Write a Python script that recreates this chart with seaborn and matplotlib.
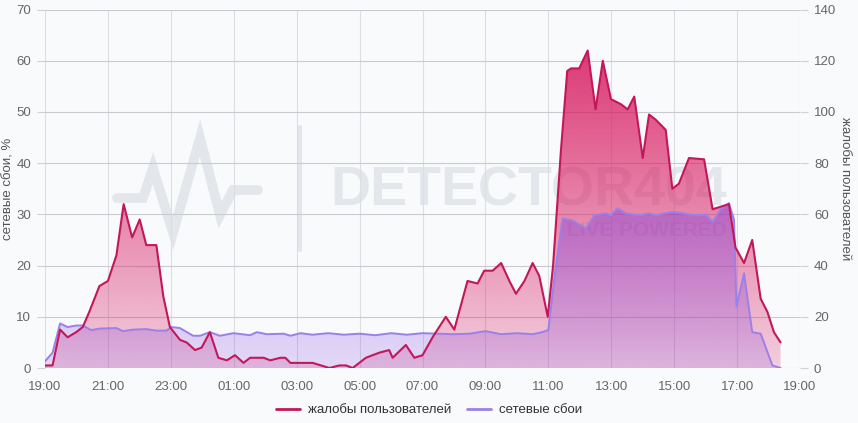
import numpy as np
import pandas as pd
import matplotlib
matplotlib.use("Agg")
import matplotlib.pyplot as plt
import seaborn as sns
from matplotlib.colors import to_rgb
from matplotlib.lines import Line2D

# ---------------- data ----------------
tick_hours = [0, 2, 4, 6, 8, 10, 12, 14, 16, 18, 20, 22, 24]
tick_labels = ["19:00", "21:00", "23:00", "01:00", "03:00", "05:00", "07:00",
               "09:00", "11:00", "13:00", "15:00", "17:00", "19:00"]

# network failures, % (left axis); hours since 19:00
net_hours = [0, 0.24, 0.48, 0.72, 0.99, 1.2, 1.47, 1.73, 2.27, 2.48, 2.8, 3.22, 3.54,
             3.86, 4.02, 4.29, 4.71, 4.93, 5.24, 5.56, 5.99, 6.52, 6.73, 7.05, 7.59,
             7.8, 8.12, 8.5, 9.0, 9.5, 10.0, 10.5, 11.0, 11.5, 12.0, 12.5, 13.0, 13.5,
             14.0, 14.5, 15.0, 15.5, 15.8, 16.0, 16.2, 16.45, 16.77, 17.19, 17.46,
             17.83, 17.99, 18.2, 18.46, 18.89, 19.2, 19.41, 19.94, 20.47, 20.79, 21.0,
             21.22, 21.48, 21.74, 21.9, 21.98, 22.22, 22.48, 22.75, 23.12, 23.38]
net_values = [1.3, 3.0, 8.7, 8.0, 8.3, 8.3, 7.4, 7.7, 7.8, 7.2, 7.5, 7.6, 7.3,
              7.3, 8.0, 7.8, 6.3, 6.3, 7.0, 6.3, 6.8, 6.4, 7.0, 6.6, 6.7,
              6.3, 6.8, 6.5, 6.8, 6.5, 6.7, 6.4, 6.8, 6.5, 6.8, 6.7, 6.6, 6.7,
              7.2, 6.6, 6.8, 6.6, 7.0, 7.4, 18.0, 29.2, 28.8, 27.2, 29.8,
              30.2, 29.8, 31.2, 30.2, 29.8, 30.2, 29.8, 30.5, 30.0, 29.8, 30.0,
              28.5, 31.0, 32.2, 29.0, 12.0, 18.5, 7.0, 6.7, 0.5, 0.0]

# user complaints (right axis); hours since 19:00
comp_hours = [0, 0.24, 0.48, 0.72, 0.99, 1.2, 1.41, 1.73, 2.0, 2.27, 2.5, 2.77, 3.01,
              3.22, 3.54, 3.76, 3.97, 4.29, 4.5, 4.77, 4.98, 5.24, 5.51, 5.78, 6.04,
              6.31, 6.52, 6.95, 7.16, 7.48, 7.64, 7.8, 8.12, 8.51, 9.04, 9.35, 9.57,
              9.78, 10.2, 10.63, 10.94, 11.05, 11.47, 11.74, 12.0, 12.32, 12.74, 13.01,
              13.43, 13.75, 13.96, 14.23, 14.5, 14.76, 14.97, 15.24, 15.5, 15.71, 15.98,
              16.15, 16.4, 16.6, 16.72, 16.98, 17.25, 17.5, 17.73, 17.99, 18.31, 18.52,
              18.73, 19.0, 19.2, 19.41, 19.73, 19.94, 20.15, 20.47, 20.95, 21.22, 21.48,
              21.74, 21.95, 22.22, 22.48, 22.75, 22.96, 23.17, 23.38]
comp_values = [1, 1, 15, 12, 14, 16, 22, 32, 34, 44, 64, 51, 58,
               48, 48, 28, 16, 11, 10, 7, 8, 14, 4, 3, 5,
               2, 4, 4, 3, 4, 4, 2, 2, 2, 0, 1, 1,
               0, 4, 6, 7, 4, 9, 4, 5, 12, 20, 15,
               34, 33, 38, 38, 41, 34, 29, 34, 41, 36, 20,
               40, 85, 116, 117, 117, 124, 101, 120, 105, 103, 101,
               106, 82, 99, 97, 93, 70, 72, 82, 81.5, 62, 63,
               64, 47, 41, 50, 27, 22, 14, 10]

net_df = pd.DataFrame({"hour": net_hours, "value": net_values})
comp_df = pd.DataFrame({"hour": comp_hours, "value": comp_values})

# ---------------- style ----------------
sns.set_theme(style="white")
plt.rcParams["font.family"] = ["Liberation Sans", "DejaVu Sans"]

BG = "#f9fafc"
C_COMP = "#c2185b"
C_COMP_FILL = "#d81b60"
C_NET = "#9b80e8"
C_NET_FILL = "#7e40e0"
TICK_C = "#666666"

fig = plt.figure(figsize=(8.58, 4.23), dpi=100, facecolor=BG)
ax_c = fig.add_axes([0.05245, 0.13, 0.88, 0.8475])   # complaints (right axis), bottom layer
ax_n = ax_c.twinx()                                   # network (left axis)
ax_top = ax_c.twinx()                                 # complaints line layer
ax_c.yaxis.tick_right()
ax_c.yaxis.set_label_position("right")
ax_n.yaxis.tick_left()
ax_n.yaxis.set_label_position("left")
ax_c.set_zorder(1)
ax_n.set_zorder(2)
ax_top.set_zorder(3)
ax_c.patch.set_visible(False)


def gradient_fill(ax, x, y, color, a_bottom, a_top, ymax, z):
    poly = ax.fill_between(x, y, 0, facecolor="none", edgecolor="none")
    path = poly.get_paths()[0]
    n = 256
    grad = np.zeros((n, 1, 4))
    grad[:, :, :3] = to_rgb(color)
    grad[:, 0, 3] = np.linspace(a_top, a_bottom, n)
    im = ax.imshow(grad, aspect="auto", extent=[0, 24, 0, ymax], origin="upper",
                   zorder=z, interpolation="bilinear")
    im.set_clip_path(path, ax.transData)


gradient_fill(ax_c, comp_df["hour"], comp_df["value"], C_COMP_FILL, 0.2, 0.95, 140, 1)
gradient_fill(ax_n, net_df["hour"], net_df["value"], C_NET_FILL, 0.18, 0.75, 70, 1)

sns.lineplot(data=net_df, x="hour", y="value", ax=ax_n, color=C_NET, lw=1.4,
             estimator=None, sort=False, legend=False, zorder=3)
sns.lineplot(data=comp_df, x="hour", y="value", ax=ax_top, color=C_COMP, lw=1.5,
             estimator=None, sort=False, legend=False, zorder=3)

# limits & ticks
for a in (ax_c, ax_n, ax_top):
    a.set_xlim(0, 24)
    for s in a.spines.values():
        s.set_visible(False)
ax_c.set_ylim(0, 140)
ax_top.set_ylim(0, 140)
ax_n.set_ylim(0, 70)

ax_c.set_xticks(tick_hours)
ax_c.set_xticklabels(tick_labels)
ax_c.set_yticks(range(0, 141, 20))
ax_n.set_yticks(range(0, 71, 10))
ax_top.set_yticks([])
ax_top.set_ylabel("")
ax_n.set_xlabel("")
ax_c.set_xlabel("")

ax_c.tick_params(axis="x", length=0, pad=9, labelsize=9.5, labelcolor=TICK_C)
ax_c.tick_params(axis="y", right=True, left=False, length=6, width=0.8, color="#cfd1d6",
                 pad=4, labelsize=9.5, labelcolor=TICK_C)
ax_n.tick_params(axis="y", left=True, right=False, length=6, width=0.8, color="#cfd1d6",
                 pad=4, labelsize=9.5, labelcolor=TICK_C)

ax_c.grid(True, axis="y", color="#c9cbd0", lw=0.8)
ax_c.grid(True, axis="x", color="#dcdee3", lw=0.8)
ax_c.set_axisbelow(True)

ax_n.set_ylabel("сетевые сбои, %", fontsize=9.5, color="#555555", va="center")
ax_n.yaxis.set_label_coords(-0.048, 0.5)
ax_c.set_ylabel("жалобы пользователей", fontsize=9.5, color="#555555", rotation=270,
                va="center")
ax_c.yaxis.set_label_coords(1.059, 0.5)

# watermark
WM = "#e3e6ea"
zz_x = [117, 143, 153, 173, 200, 220, 233, 258]
zz_y = [198, 198, 168, 233, 138, 215, 190, 190]
fig.lines.append(Line2D([v / 858 for v in zz_x], [1 - v / 423 for v in zz_y],
                        transform=fig.transFigure, color=WM, lw=7, zorder=0.5,
                        solid_joinstyle="miter"))
fig.lines.append(Line2D([300 / 858, 300 / 858], [1 - 127 / 423, 1 - 250 / 423],
                        transform=fig.transFigure, color=WM, lw=3, zorder=0.5))
fig.text(330 / 858, 1 - 191 / 423, "DETECTOR404", fontsize=40, fontweight="bold",
         color=WM, ha="left", va="center", zorder=0.5)
fig.text(727 / 858, 1 - 230 / 423, "LIVE POWERED", fontsize=15, fontweight="bold",
         color=WM, ha="right", va="center", zorder=0.5)

# legend
handles = [Line2D([], [], color=C_COMP, lw=2), Line2D([], [], color=C_NET, lw=2)]
fig.legend(handles, ["жалобы пользователей", "сетевые сбои"], loc="center",
           bbox_to_anchor=(0.5, 1 - 410 / 423), ncol=2, frameon=False, fontsize=9.5,
           handlelength=1.8, columnspacing=1.2, handletextpad=0.6, labelcolor="#333333")

fig.savefig("out.png", dpi=100, facecolor=BG)
